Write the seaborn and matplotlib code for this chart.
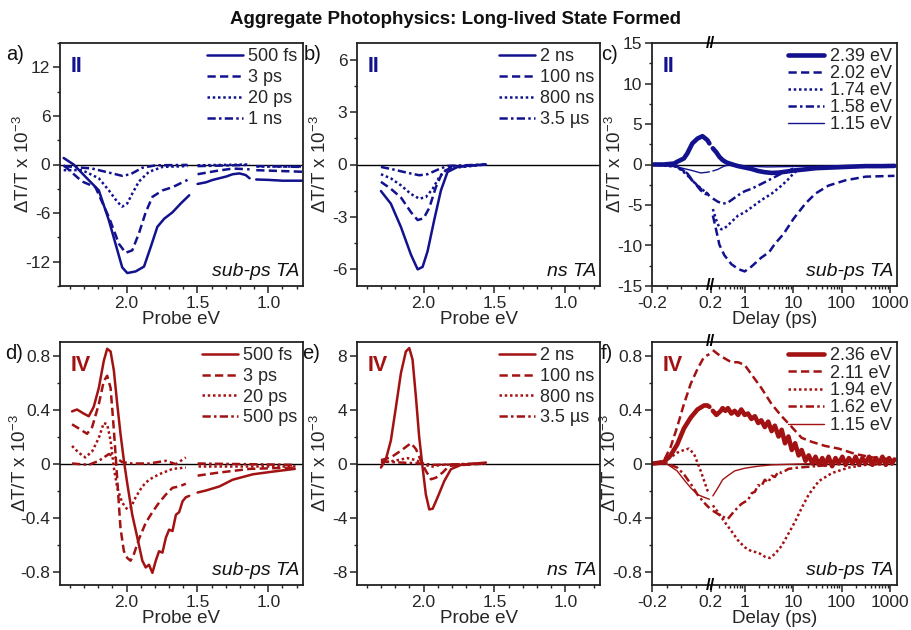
import numpy as np
import matplotlib
matplotlib.use("Agg")
import matplotlib.pyplot as plt
import matplotlib.transforms as mtransforms
from matplotlib.lines import Line2D
from matplotlib.ticker import MultipleLocator, FixedLocator
import seaborn as sns

# ---------------- data ----------------
# panel a : sub-ps TA, film II (probe eV, dT/T x1e-3); detector gaps -> segments
a_500fs = [([2.444, 2.374, 2.291, 2.196, 2.125, 2.078, 2.031, 1.995, 1.936, 1.877, 1.83, 1.783, 1.735, 1.676, 1.617, 1.558],
            [0.8, 0.0, -1.5, -3.2, -6.9, -9.8, -12.7, -13.4, -13.2, -12.6, -10.2, -7.7, -6.7, -5.9, -4.8, -3.8]),
           ([1.499, 1.44, 1.392, 1.30, 1.251, 1.203, 1.16, 1.132], [-2.4, -2.2, -1.9, -1.5, -1.2, -1.1, -1.3, -1.7]),
           ([1.085, 1.0, 0.9, 0.8, 0.755], [-1.85, -1.9, -2.0, -2.0, -2.0])]
a_3ps = [([2.444, 2.314, 2.22, 2.125, 2.054, 2.007, 1.96, 1.913, 1.865, 1.818, 1.747, 1.676, 1.570],
          [-0.1, -2.1, -2.8, -6.5, -9.8, -10.9, -10.6, -8.5, -5.9, -4.0, -3.2, -2.8, -1.9]),
         ([1.499, 1.369, 1.251, 1.132], [-1.2, -0.8, -0.5, -0.6]),
         ([1.085, 0.755], [-0.7, -0.9])]
a_20ps = [([2.444, 2.314, 2.196, 2.125, 2.066, 2.031, 1.995, 1.96, 1.913, 1.842, 1.747, 1.570],
           [-0.7, -0.7, -1.7, -3.2, -4.6, -5.2, -4.8, -3.6, -2.1, -0.9, -0.3, -0.2]),
          ([1.499, 1.132], [-0.1, 0.0]),
          ([1.085, 0.755], [-0.2, -0.2])]
a_1ns = [([2.444, 2.243, 2.125, 2.031, 1.972, 1.889, 1.794, 1.570], [-0.2, -0.5, -1.0, -1.4, -1.2, -0.4, -0.1, -0.05]),
         ([1.499, 1.132], [-0.2, -0.05]),
         ([1.085, 0.755], [-0.2, -0.3])]
a_labels = ["500 fs", "3 ps", "20 ps", "1 ns"]

# panel b : ns TA, film II
b_2ns = [([2.301, 2.231, 2.16, 2.089, 2.042, 2.007, 1.972, 1.925, 1.878, 1.831, 1.76, 1.642, 1.56],
          [-1.53, -2.26, -3.6, -5.2, -6.04, -5.9, -5.0, -3.2, -1.5, -0.43, -0.14, -0.04, 0.0])]
b_100ns = [([2.301, 2.231, 2.16, 2.089, 2.042, 2.0, 1.96, 1.913, 1.866, 1.795, 1.56],
            [-1.0, -1.4, -1.9, -2.75, -3.2, -3.1, -2.5, -1.3, -0.43, -0.14, 0.0])]
b_800ns = [([2.301, 2.231, 2.16, 2.089, 2.03, 1.984, 1.936, 1.889, 1.831, 1.56],
            [-0.56, -0.8, -1.2, -1.7, -1.97, -1.88, -1.4, -0.72, -0.23, 0.0])]
b_3p5us = [([2.301, 2.207, 2.113, 2.03, 1.972, 1.901, 1.831, 1.56],
            [-0.14, -0.3, -0.48, -0.62, -0.56, -0.3, -0.08, 0.0])]
b_labels = ["2 ns", "100 ns", "800 ns", "3.5 µs"]

# panel c : kinetics, film II (delay ps; gap at the axis break)
c_239 = [([-0.19, -0.12, -0.05, -0.03, 0.017, 0.04, 0.074, 0.109, 0.143, 0.177, 0.19],
          [0.0, 0.0, 0.12, 0.33, 0.75, 1.37, 2.6, 3.2, 3.5, 3.0, 2.6]),
         ([0.22, 0.26, 0.3, 0.35, 0.42, 0.53, 0.62, 0.73, 1.0, 1.38, 1.9, 2.6, 3.6, 5.0, 6.8, 10, 17.8, 30, 64, 140, 316, 700, 1240],
          [2.0, 1.5, 0.95, 0.55, 0.25, 0.05, -0.08, -0.2, -0.37, -0.55, -0.8, -0.95, -1.04, -1.0, -0.9, -0.75, -0.6, -0.45, -0.37, -0.28, -0.2, -0.2, -0.17])]
c_202 = [([-0.19, -0.05, 0.017, 0.074, 0.131, 0.177, 0.19], [0.0, -0.08, -0.8, -2.0, -3.0, -3.6, -3.9]),
         ([0.22, 0.26, 0.3, 0.38, 0.53, 0.73, 1.0, 1.38, 2.2, 3.06, 3.3, 4.2, 6.3, 10.2, 17.8, 28.7, 54, 121, 316, 1240],
          [-6.3, -8.2, -9.9, -11.2, -12.3, -12.9, -13.2, -12.6, -11.5, -10.9, -10.7, -9.8, -8.6, -6.7, -4.85, -3.6, -2.6, -1.95, -1.5, -1.4])]
c_174 = [([-0.19, -0.03, 0.04, 0.109, 0.177, 0.19], [0.0, -0.3, -1.3, -2.6, -3.6, -3.9]),
         ([0.22, 0.26, 0.3, 0.33, 0.38, 0.45, 0.53, 0.73, 1.0, 1.38, 2.2, 3.6, 5.8, 8.0, 10.2, 13],
          [-5.5, -6.9, -7.8, -8.0, -7.9, -7.5, -7.1, -6.3, -5.9, -5.3, -4.4, -3.6, -2.6, -1.8, -1.1, -0.6])]
c_158 = [([-0.19, -0.03, 0.04, 0.086, 0.131, 0.177, 0.19], [0.0, -0.15, -1.1, -2.2, -3.2, -3.8, -3.9]),
         ([0.22, 0.28, 0.33, 0.38, 0.45, 0.53, 0.73, 1.0, 1.38, 2.2, 3.6, 5.8, 8.7, 10],
          [-4.2, -4.6, -4.75, -4.8, -4.7, -4.4, -3.8, -3.3, -3.0, -2.4, -1.75, -1.1, -0.7, -0.5])]
c_115 = [([-0.19, -0.03, 0.063, 0.131, 0.177, 0.19], [0.0, -0.3, -0.7, -1.04, -0.95, -0.9]),
         ([0.22, 0.28, 0.33, 0.38, 0.45, 0.53, 1.0, 3, 10, 100, 1240],
          [-0.8, -0.6, -0.37, -0.2, -0.08, -0.05, -0.2, -0.3, -0.25, -0.2, -0.15])]
c_labels = ["2.39 eV", "2.02 eV", "1.74 eV", "1.58 eV", "1.15 eV"]

# panel d : sub-ps TA, film IV
d_500fs = [([2.385, 2.35, 2.303, 2.267, 2.232, 2.196, 2.161, 2.137, 2.113, 2.09, 2.066, 2.043, 2.019, 1.995, 1.96, 1.924,
             1.889, 1.865, 1.842, 1.818, 1.794, 1.771, 1.747, 1.723, 1.70, 1.676, 1.652, 1.629, 1.605, 1.582, 1.558],
            [0.386, 0.40, 0.37, 0.35, 0.42, 0.56, 0.76, 0.85, 0.83, 0.69, 0.44, 0.22, 0.02, -0.15, -0.38, -0.55,
             -0.72, -0.77, -0.75, -0.81, -0.72, -0.65, -0.66, -0.55, -0.49, -0.50, -0.38, -0.36, -0.28, -0.25, -0.24]),
           ([1.499, 1.44, 1.345, 1.251, 1.109, 0.967, 0.813], [-0.215, -0.2, -0.17, -0.12, -0.08, -0.06, -0.04])]
d_3ps = [([2.385, 2.338, 2.279, 2.243, 2.196, 2.161, 2.137, 2.113, 2.095, 2.078, 2.059, 2.043, 2.019, 1.995, 1.972, 1.948,
           1.913, 1.865, 1.818, 1.771, 1.723, 1.676, 1.629, 1.582],
          [0.29, 0.26, 0.22, 0.27, 0.44, 0.61, 0.65, 0.56, 0.32, 0.07, -0.23, -0.48, -0.65, -0.70, -0.72, -0.67,
           -0.56, -0.44, -0.36, -0.29, -0.23, -0.18, -0.17, -0.15]),
         ([1.499, 1.369, 1.132, 0.813], [-0.09, -0.07, -0.04, -0.03])]
d_20ps = [([2.385, 2.338, 2.291, 2.243, 2.196, 2.161, 2.137, 2.113, 2.09, 2.066, 2.031, 1.995, 1.972, 1.936, 1.889, 1.842, 1.771, 1.676, 1.582],
           [0.13, 0.08, 0.045, 0.09, 0.19, 0.30, 0.29, 0.17, -0.03, -0.18, -0.29, -0.34, -0.33, -0.25, -0.17, -0.12, -0.08, -0.04, -0.03]),
          ([1.499, 0.813], [-0.02, -0.02])]
d_500ps = [([2.385, 2.267, 2.196, 2.125, 2.078, 2.031, 1.96, 1.842, 1.723, 1.652, 1.582],
            [0.0, -0.01, 0.02, 0.07, 0.045, 0.01, 0.0, 0.0, 0.02, -0.005, 0.045]),
           ([1.499, 0.813], [0.0, -0.01])]
d_labels = ["500 fs", "3 ps", "20 ps", "500 ps"]

# panel e : ns TA, film IV
e_2ns = [([2.301, 2.266, 2.231, 2.195, 2.16, 2.125, 2.101, 2.078, 2.054, 2.031, 2.007, 1.984, 1.96, 1.936, 1.901, 1.854, 1.807, 1.736, 1.56],
          [-0.3, 0.32, 1.7, 4.2, 6.7, 8.3, 8.55, 7.7, 4.9, 1.95, -0.3, -2.3, -3.4, -3.35, -2.5, -1.3, -0.42, -0.1, 0.07])]
e_100ns = [([2.301, 2.231, 2.16, 2.113, 2.089, 2.054, 2.019, 1.984, 1.948, 1.913, 1.866, 1.819, 1.56],
            [0.25, 0.45, 0.95, 1.32, 1.5, 1.07, 0.2, -0.55, -1.17, -1.05, -0.67, -0.17, 0.0])]
e_800ns = [([2.301, 2.207, 2.113, 2.054, 1.995, 1.948, 1.878, 1.56], [0.07, 0.2, 0.4, 0.25, -0.05, -0.25, -0.1, 0.0])]
e_3p5us = [([2.301, 2.16, 2.019, 1.925, 1.56], [0.15, 0.07, 0.0, -0.1, 0.0])]
e_labels = ["2 ns", "100 ns", "800 ns", "3.5 µs"]

# panel f : kinetics, film IV
f_236 = [([-0.19, -0.12, -0.074, -0.029, 0.017, 0.063, 0.109, 0.154, 0.177, 0.19],
          [0.0, 0.01, 0.06, 0.14, 0.26, 0.34, 0.40, 0.43, 0.43, 0.42]),
         ([0.22, 0.26, 0.28, 0.32, 0.35, 0.40, 0.45, 0.53, 0.62, 0.73, 0.85, 1.0, 1.17, 1.38, 1.62, 1.9, 2.2, 2.6, 3.06, 3.6,
           4.2, 5.0, 5.8, 6.8, 8.0, 9.4, 11, 13, 15, 18, 21, 25, 29, 34, 40, 46, 54, 64, 75, 88, 104, 121, 142, 170, 195,
           230, 270, 316, 370, 434, 510, 600, 700, 820, 960, 1100, 1240],
          [0.39, 0.36, 0.37, 0.39, 0.41, 0.39, 0.41, 0.37, 0.39, 0.36, 0.40, 0.36, 0.37, 0.33, 0.35, 0.30, 0.32, 0.27, 0.31, 0.24,
           0.28, 0.20, 0.25, 0.15, 0.20, 0.10, 0.15, 0.06, 0.10, 0.02, 0.06, 0.0, 0.05, -0.01, 0.04, -0.01, 0.05, -0.02, 0.04, 0.0,
           0.05, -0.01, 0.04, 0.0, 0.05, -0.01, 0.04, 0.0, 0.05, -0.01, 0.04, 0.0, 0.05, -0.01, 0.04, 0.0, 0.03])]
f_211 = [([-0.19, -0.12, -0.074, -0.029, 0.017, 0.063, 0.109, 0.154, 0.19], [0.0, 0.02, 0.12, 0.27, 0.44, 0.59, 0.70, 0.79, 0.81]),
         ([0.22, 0.28, 0.38, 0.53, 0.73, 1.0, 1.38, 2.2, 3.6, 5.8, 9.4, 15, 24.5, 46, 88, 195, 434, 1240],
          [0.84, 0.81, 0.78, 0.75, 0.75, 0.73, 0.66, 0.56, 0.44, 0.35, 0.27, 0.19, 0.16, 0.13, 0.11, 0.07, 0.045, 0.03])]
f_194 = [([-0.19, -0.12, -0.074, -0.029, 0.017, 0.051, 0.086, 0.131, 0.177, 0.19], [0.0, 0.01, 0.045, 0.08, 0.10, 0.11, 0.07, -0.055, -0.2, -0.22]),
         ([0.22, 0.28, 0.38, 0.53, 0.73, 1.0, 1.38, 1.9, 2.6, 3.3, 4.2, 5.8, 8.0, 11, 15, 21, 34, 64, 142, 316, 1240],
          [-0.31, -0.36, -0.43, -0.5, -0.57, -0.62, -0.65, -0.66, -0.69, -0.70, -0.67, -0.61, -0.52, -0.43, -0.33, -0.23, -0.13, -0.07, -0.03, -0.01, 0.0])]
f_162 = [([-0.19, -0.097, -0.029, 0.017, 0.063, 0.109, 0.154, 0.19], [0.0, 0.0, -0.03, -0.08, -0.15, -0.23, -0.29, -0.33]),
         ([0.22, 0.33, 0.45, 0.62, 0.85, 1.17, 1.4, 1.62, 1.9, 2.2, 2.6, 3.06, 3.6, 4.2, 5.0, 5.8, 8.0, 12.9, 28.7, 64],
          [-0.35, -0.39, -0.41, -0.35, -0.30, -0.27, -0.22, -0.21, -0.16, -0.17, -0.12, -0.14, -0.09, -0.10, -0.06, -0.07, -0.04, -0.03, -0.02, -0.01])]
f_115 = [([-0.19, -0.097, -0.029, 0.017, 0.063, 0.109, 0.154, 0.19], [0.0, -0.005, -0.055, -0.12, -0.18, -0.23, -0.25, -0.265]),
         ([0.22, 0.28, 0.35, 0.45, 0.62, 1.0, 1.9, 3.6, 10, 30], [-0.24, -0.18, -0.12, -0.09, -0.055, -0.035, -0.02, -0.01, -0.005, 0.0])]
f_labels = ["2.36 eV", "2.11 eV", "1.94 eV", "1.62 eV", "1.15 eV"]

# ---------------- style ----------------
sns.set_theme(style="ticks")
plt.rcParams['font.family'] = ['Liberation Sans', 'DejaVu Sans']
plt.rcParams['mathtext.fontset'] = 'custom'
plt.rcParams['mathtext.rm'] = 'Liberation Sans'
plt.rcParams['mathtext.it'] = 'Liberation Sans:italic'
plt.rcParams['mathtext.bf'] = 'Liberation Sans:bold'
plt.rcParams['axes.unicode_minus'] = False

BLUE = "#12128e"
RED = "#a31212"
SOLID = '-'
DASH = (0, (3.3, 1.7))
DOT = (0, (1, 1.1))
DASHDOT = (0, (3.3, 1.3, 1, 1.3))
LW = 1.8
FS_TICK = 12.5
FS_LEG = 13
FS_LAB = 13.5

W, H = 911, 630
fig = plt.figure(figsize=(W / 100, H / 100), dpi=100)


def px_axes(l, t, r, b):
    return fig.add_axes([l / W, 1 - b / H, (r - l) / W, (b - t) / H])


K = 0.329


def fwd(x):
    x = np.asarray(x, dtype=float)
    return np.where(x <= 0.2, x, 0.2 + K * np.log10(np.maximum(x, 0.2) / 0.2))


def inv(y):
    y = np.asarray(y, dtype=float)
    return np.where(y <= 0.2, y, 0.2 * 10 ** ((np.minimum(y, 6) - 0.2) / K))


def draw(ax, segs, color, ls, lw):
    for xs, ys in segs:
        sns.lineplot(x=xs, y=ys, ax=ax, color=color, linestyle=ls, linewidth=lw,
                     sort=False, estimator=None, legend=False)


def style_axes(ax, ylim, ymajor, yminor, ylabels, kind, color, roman, labels, styles, note, ylab_x, legsp):
    ax.set_ylim(*ylim)
    ax.set_yticks(ymajor)
    ax.set_yticklabels(ylabels)
    ax.yaxis.set_minor_locator(MultipleLocator(yminor))
    if kind == 'eV':
        ax.set_xlim(2.47, 0.755)
        ax.set_xticks([2.0, 1.5, 1.0])
        ax.set_xticklabels(["2.0", "1.5", "1.0"])
        ax.xaxis.set_minor_locator(MultipleLocator(0.1))
        ax.set_xlabel("Probe eV", fontsize=FS_LAB, labelpad=0)
    else:
        ax.set_xscale('function', functions=(fwd, inv))
        ax.set_xlim(-0.2, 1400)
        ax.set_xticks([-0.2, 0.2, 1, 10, 100, 1000])
        ax.set_xticklabels(["-0.2", "0.2", "1", "10", "100", "1000"])
        minors = [-0.1, 0.0, 0.1]
        for dec in [0.1, 1, 10, 100]:
            minors += [dec * m for m in range(2, 10) if dec * m > 0.2]
        minors += [1000 * m for m in range(2, 10) if 1000 * m <= 1400]
        ax.xaxis.set_minor_locator(FixedLocator(minors))
        ax.set_xlabel("Delay (ps)", fontsize=FS_LAB, labelpad=0)
        tr = mtransforms.blended_transform_factory(ax.transData, ax.transAxes)
        for yy in (1.0, 0.0):
            ax.text(0.2, yy, "//", transform=tr, ha='center', va='center', fontsize=12,
                    fontweight='bold', color='black', clip_on=False, zorder=10)
    ax.set_ylabel("ΔT/T x 10$^{-3}$", fontsize=FS_LAB)
    ax.yaxis.set_label_coords(ylab_x, 0.5)
    ax.axhline(0, color='black', lw=1.0, zorder=0)
    ax.tick_params(axis='both', which='major', direction='out', length=5, width=1.1,
                   labelsize=FS_TICK, pad=2, top=False, right=False, color='#222222')
    ax.tick_params(axis='both', which='minor', direction='out', length=2.5, width=1.0,
                   top=False, right=False, color='#222222')
    for sp in ax.spines.values():
        sp.set_linewidth(1.3)
        sp.set_color('#222222')
        sp.set_visible(True)
    ax.text(0.045, 0.945, roman, transform=ax.transAxes, fontsize=15.5, fontweight='bold',
            color=color, ha='left', va='top')
    ax.text(0.985, 0.025, note, transform=ax.transAxes, fontsize=14, style='italic',
            ha='right', va='bottom', color='#111111')
    handles = [Line2D([], [], color=color, linestyle=s[0], linewidth=s[1]) for s in styles]
    ax.legend(handles, labels, loc='upper right', frameon=False, fontsize=FS_LEG,
              handlelength=2.0, handletextpad=0.3, labelspacing=legsp,
              borderaxespad=0.2, borderpad=0.1)


std4 = [(SOLID, LW), (DASH, LW), (DOT, LW), (DASHDOT, LW)]
std5 = [(SOLID, 3.3), (DASH, LW), (DOT, LW), (DASHDOT, LW), (SOLID, 1.0)]

# --- panel a
ax = px_axes(60, 43, 303, 286)
for segs, (ls, lw) in zip([a_500fs, a_3ps, a_20ps, a_1ns], std4):
    draw(ax, segs, BLUE, ls, lw)
style_axes(ax, (-15, 15), [-12, -6, 0, 6, 12], 3, ["-12", "-6", "0", "6", "12"], 'eV', BLUE, "II",
           a_labels, std4, "sub-ps TA", -0.11, 0.22)

# --- panel b
ax = px_axes(357, 43, 600, 286)
for segs, (ls, lw) in zip([b_2ns, b_100ns, b_800ns, b_3p5us], std4):
    draw(ax, segs, BLUE, ls, lw)
style_axes(ax, (-7, 7), [-6, -3, 0, 3, 6], 1.5, ["-6", "-3", "0", "3", "6"], 'eV', BLUE, "II",
           b_labels, std4, "ns TA", -0.11, 0.22)

# --- panel c
ax = px_axes(652, 43, 897, 286)
for segs, (ls, lw) in zip([c_239, c_202, c_174, c_158, c_115], std5):
    draw(ax, segs, BLUE, ls, lw)
style_axes(ax, (-15, 15), [-15, -10, -5, 0, 5, 10, 15], 2.5, ["-15", "-10", "-5", "0", "5", "10", "15"], 'ps', BLUE,
           "II", c_labels, std5, "sub-ps TA", -0.112, 0.0)

# --- panel d
ax = px_axes(60, 342, 303, 585)
for segs, (ls, lw) in zip([d_500fs, d_3ps, d_20ps, d_500ps], std4):
    draw(ax, segs, RED, ls, lw)
style_axes(ax, (-0.9, 0.9), [-0.8, -0.4, 0, 0.4, 0.8], 0.2, ["-0.8", "-0.4", "0", "0.4", "0.8"], 'eV', RED, "IV",
           d_labels, std4, "sub-ps TA", -0.125, 0.2)

# --- panel e
ax = px_axes(357, 342, 600, 585)
for segs, (ls, lw) in zip([e_2ns, e_100ns, e_800ns, e_3p5us], std4):
    draw(ax, segs, RED, ls, lw)
style_axes(ax, (-9, 9), [-8, -4, 0, 4, 8], 2, ["-8", "-4", "0", "4", "8"], 'eV', RED, "IV",
           e_labels, std4, "ns TA", -0.11, 0.2)

# --- panel f
ax = px_axes(652, 342, 897, 585)
for segs, (ls, lw) in zip([f_236, f_211, f_194, f_162, f_115], std5):
    draw(ax, segs, RED, ls, lw)
style_axes(ax, (-0.9, 0.9), [-0.8, -0.4, 0, 0.4, 0.8], 0.2, ["-0.8", "-0.4", "0", "0.4", "0.8"], 'ps', RED,
           "IV", f_labels, std5, "sub-ps TA", -0.13, 0.02)

# panel tags and title
for tag, x, y in [("a)", 6, 45), ("b)", 304, 45), ("c)", 601, 45), ("d)", 5, 344), ("e)", 302, 344), ("f)", 601, 344)]:
    fig.text(x / W, 1 - y / H, tag, fontsize=14.5, ha='left', va='top', color='#111111')
fig.text(455 / W, 1 - 19 / H, "Aggregate Photophysics: Long-lived State Formed", fontsize=13.5,
         fontweight='bold', ha='center', va='center', color='#111111')

fig.savefig("out.png", dpi=100)
